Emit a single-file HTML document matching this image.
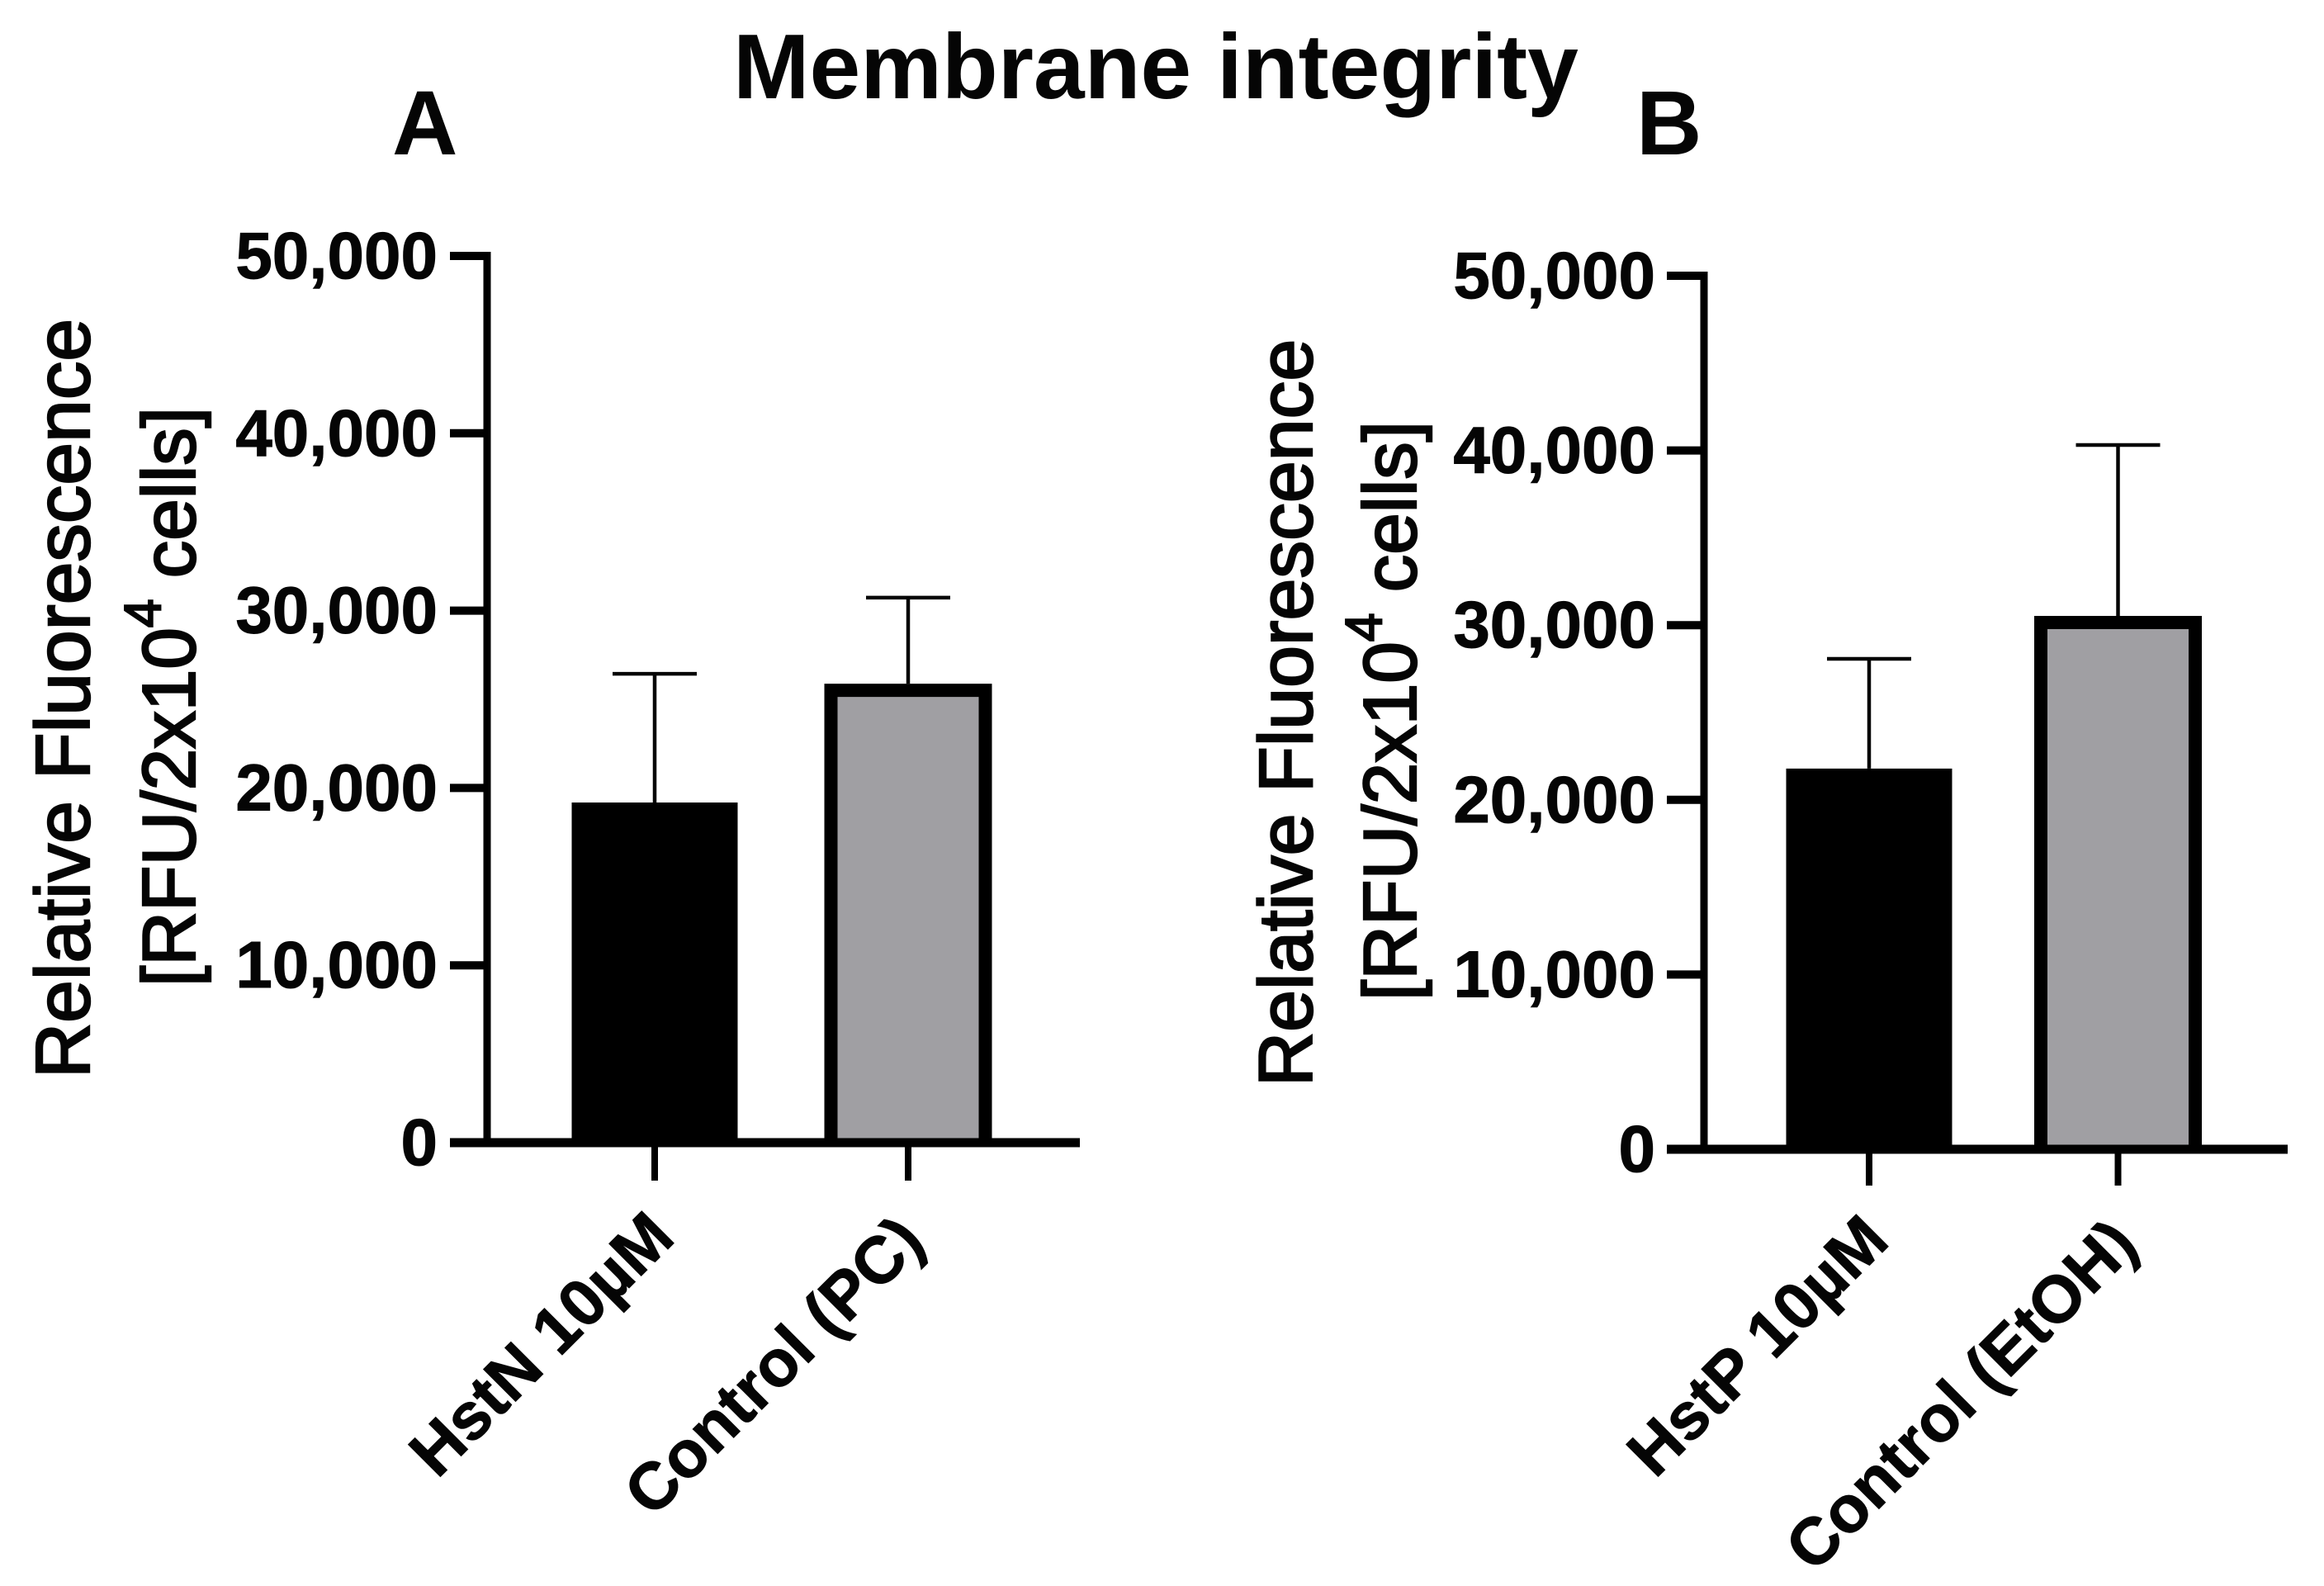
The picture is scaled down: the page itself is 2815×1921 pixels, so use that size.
<!DOCTYPE html>
<html lang="en">
<head>
<meta charset="utf-8">
<title>Membrane integrity</title>
<style>
  html, body { margin: 0; padding: 0; background: #fff; }
  svg { display: block; }
  text { font-family: "Liberation Sans", sans-serif; fill: #050505; }
  .bold { font-weight: 700; }
  .ytitle { stroke: #050505; stroke-width: 2.4px; }
</style>
</head>
<body>
<svg id="chart" xmlns="http://www.w3.org/2000/svg" width="2815" height="1921" viewBox="0 0 2815 1921">
  <rect x="0" y="0" width="2815" height="1921" fill="#fff"/>
  <text class="bold" x="888" y="119" font-size="111">Membrane integrity</text>
  <text class="bold" x="475" y="187" font-size="110">A</text>
  <text class="bold" x="1982" y="187" font-size="110">B</text>

  <text class="ytitle" font-size="93" transform="translate(108 1306) rotate(-90)">Relative Fluorescence</text>
  <text class="ytitle" font-size="91" transform="translate(236 1195) rotate(-90)">[RFU/2x10<tspan font-size="62" dy="-42">4</tspan><tspan dy="42"> cells]</tspan></text>

  <text class="ytitle" font-size="91.5" transform="translate(1589 1316) rotate(-90)">Relative Fluorescence</text>
  <text class="ytitle" font-size="91" transform="translate(1715 1212) rotate(-90)">[RFU/2x10<tspan font-size="62" dy="-42">4</tspan><tspan dy="42"> cells]</tspan></text>

  <g id="panel-a"></g>
  <g id="panel-b"></g>
</svg>

<script>
// Shared axis data
const tickValues = [0, 10000, 20000, 30000, 40000, 50000];
const tickLabels = ["0", "10,000", "20,000", "30,000", "40,000", "50,000"];
const axisMax = 50000;

// Panel A data
const panelACategories = ["HstN 10\u00B5M", "Control (PC)"];
const panelAMeans = [19180, 25880];
const panelAErrorTops = [26440, 30730];

// Panel B data
const panelBCategories = ["HstP 10\u00B5M", "Control (EtOH)"];
const panelBMeans = [21790, 30530];
const panelBErrorTops = [28070, 40310];

const SVG_NS = "http://www.w3.org/2000/svg";

function shape(parent, tag, attrs) {
  const el = document.createElementNS(SVG_NS, tag);
  for (const key in attrs) el.setAttribute(key, attrs[key]);
  parent.appendChild(el);
  return el;
}

function drawPanel(id, categories, means, errorTops, layout) {
  const root = document.getElementById(id);
  const yScale = function (v) {
    return layout.yZero - (v / axisMax) * (layout.yZero - layout.yTop);
  };
  const xScale = function (i) {
    return layout.xFirst + i * layout.xStep;
  };

  // Error bars sit behind the bars
  categories.forEach(function (cat, i) {
    const cx = xScale(i);
    const top = yScale(errorTops[i]);
    const stem = shape(root, "line", { x1: cx, x2: cx, y1: top, y2: yScale(means[i]), stroke: "#050505", "stroke-width": 4.5 });
    
    
    const cap = shape(root, "line", { x1: cx - 51, x2: cx + 51, y1: top, y2: top, stroke: "#050505", "stroke-width": 4.5 });
    
    
  });

  // Bars: the second bar is outlined on its top and sides and meets the x axis with gray fill
  categories.forEach(function (cat, i) {
    const cx = xScale(i);
    const top = yScale(means[i]);
    const bar = i === 0
      ? shape(root, "rect", { x: cx - 100.5, y: top, width: 201, height: layout.yZero - top, fill: "#000" })
      : shape(root, "path", {
          d: "M" + (cx - 93.5) + " " + layout.yZero + "V" + (top + 8) + "H" + (cx + 93.5) + "V" + layout.yZero,
          fill: "#a09fa3", stroke: "#000", "stroke-width": 16
        });
    
    
  });

  // Y axis
  const yAxis = shape(root, "line", { x1: layout.xAxis, x2: layout.xAxis, y1: layout.yTop - 5, y2: layout.yZero, stroke: "#000", "stroke-width": 9 });
  
  

  tickValues.forEach(function (v, i) {
    const y = yScale(v);
    const tick = shape(root, "line", { x1: layout.xTickEnd, x2: layout.xAxis, y1: y, y2: y, stroke: "#000", "stroke-width": 10 });
    
    
    const label = shape(root, "text", { x: layout.xLabelEnd, y: y + 27, "text-anchor": "end", "font-size": 80, "font-weight": 700, stroke: "#050505", "stroke-width": 1 });
    
    
    label.textContent = tickLabels[i];
  });

  // X axis
  const xAxis = shape(root, "line", { x1: layout.xTickEnd, x2: layout.xAxisEnd, y1: layout.yZero, y2: layout.yZero, stroke: "#000", "stroke-width": 11 });
  
  

  categories.forEach(function (cat, i) {
    const cx = xScale(i);
    const tick = shape(root, "line", { x1: cx, x2: cx, y1: layout.yZero, y2: layout.xTickBottom, stroke: "#000", "stroke-width": 8 });
    
    
    const off = layout.labelOffsets[i];
    const label = shape(root, "text", {
      "text-anchor": "end", "font-size": 80, "font-weight": 700, stroke: "#050505", "stroke-width": 1,
      transform: "translate(" + (cx + off.dx) + " " + (layout.yZero + off.dy) + ") rotate(-45)"
    });
    
    
    label.textContent = cat;
  });
}

drawPanel("panel-a", panelACategories, panelAMeans, panelAErrorTops, {
  yZero: 1384, yTop: 310, xAxis: 590, xTickEnd: 545, xAxisEnd: 1308, xLabelEnd: 530,
  xFirst: 793, xStep: 307, xTickBottom: 1430,
  labelOffsets: [{ dx: 27, dy: 118 }, { dx: 23, dy: 123 }]
});

drawPanel("panel-b", panelBCategories, panelBMeans, panelBErrorTops, {
  yZero: 1392, yTop: 334, xAxis: 2064, xTickEnd: 2019, xAxisEnd: 2771, xLabelEnd: 2005,
  xFirst: 2264, xStep: 301.5, xTickBottom: 1436,
  labelOffsets: [{ dx: 27, dy: 114 }, { dx: 27, dy: 119 }]
});
</script>
</body>
</html>
